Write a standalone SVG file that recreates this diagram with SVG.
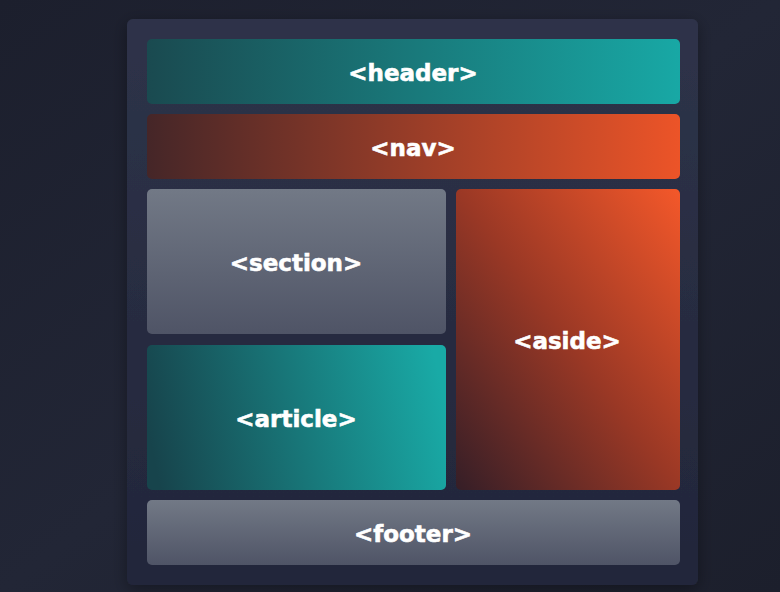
<svg xmlns="http://www.w3.org/2000/svg" width="780" height="592" viewBox="0 0 780 592">
<style>
.lbl{font-family:"DejaVu Sans",sans-serif;font-weight:bold;font-size:23px;fill:#ffffff;stroke:#ffffff;stroke-width:0.6;text-anchor:middle}
</style>
<defs>
<linearGradient id="bg" x1="0" y1="0" x2="1" y2="1">
<stop offset="0" stop-color="#1c1f2d"/><stop offset="0.5" stop-color="#222636"/><stop offset="1" stop-color="#1c1f2c"/>
</linearGradient>
<linearGradient id="cont" x1="0" y1="0" x2="0" y2="1">
<stop offset="0" stop-color="#2e3349"/><stop offset="1" stop-color="#22263a"/>
</linearGradient>
<linearGradient id="teal" x1="0" y1="0" x2="1" y2="0">
<stop offset="0" stop-color="#1a4a50"/><stop offset="1" stop-color="#18a8a5"/>
</linearGradient>
<linearGradient id="tealA" x1="0" y1="0.55" x2="1" y2="0.45">
<stop offset="0" stop-color="#17444c"/><stop offset="1" stop-color="#19aaa6"/>
</linearGradient>
<linearGradient id="orange" x1="0" y1="0" x2="1" y2="0">
<stop offset="0" stop-color="#452628"/><stop offset="1" stop-color="#ec5428"/>
</linearGradient>
<linearGradient id="orangeA" x1="1" y1="0" x2="0" y2="1">
<stop offset="0" stop-color="#f4582a"/><stop offset="0.5" stop-color="#9a3825"/><stop offset="1" stop-color="#351e27"/>
</linearGradient>
<linearGradient id="gray" x1="0" y1="0" x2="0" y2="1">
<stop offset="0" stop-color="#727986"/><stop offset="1" stop-color="#4f5466"/>
</linearGradient>
<filter id="sh" x="-10%" y="-10%" width="120%" height="120%">
<feDropShadow dx="0" dy="4" stdDeviation="8" flood-color="#000" flood-opacity="0.35"/>
</filter>
</defs>
<rect width="780" height="592" fill="url(#bg)"/>
<rect x="127" y="19" width="571" height="566" rx="6" fill="url(#cont)" filter="url(#sh)"/>
<g id="header">
<rect x="147" y="39" width="533" height="65" rx="5" fill="url(#teal)"/>
<text class="lbl" x="413" y="81">&lt;header&gt;</text>
</g>
<g id="nav">
<rect x="147" y="114" width="533" height="65" rx="5" fill="url(#orange)"/>
<text class="lbl" x="413" y="156">&lt;nav&gt;</text>
</g>
<g id="section">
<rect x="147" y="189" width="299" height="145" rx="5" fill="url(#gray)"/>
<text class="lbl" x="296" y="271">&lt;section&gt;</text>
</g>
<g id="aside">
<rect x="456" y="189" width="224" height="301" rx="5" fill="url(#orangeA)"/>
<text class="lbl" x="567" y="349">&lt;aside&gt;</text>
</g>
<g id="article">
<rect x="147" y="345" width="299" height="145" rx="5" fill="url(#tealA)"/>
<text class="lbl" x="296" y="427">&lt;article&gt;</text>
</g>
<g id="footer">
<rect x="147" y="500" width="533" height="65" rx="5" fill="url(#gray)"/>
<text class="lbl" x="413" y="542">&lt;footer&gt;</text>
</g>
<g id="connectors"/>
</svg>
